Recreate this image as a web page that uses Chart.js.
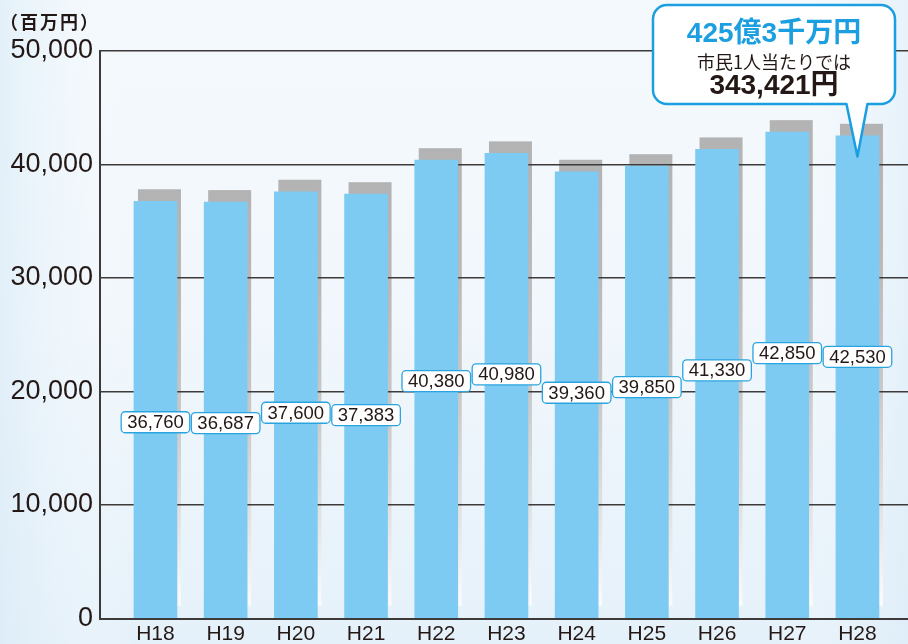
<!DOCTYPE html>
<html><head><meta charset="utf-8">
<script src="https://cdn.jsdelivr.net/npm/chart.js@4.4.1/dist/chart.umd.min.js"></script>
<style>
html,body{margin:0;padding:0;background:#eef6fc;}
canvas{display:block;}
</style>
</head><body>
<canvas id="c" width="908" height="644"></canvas>
<script>
// ---- data ----
const categories = ['H18','H19','H20','H21','H22','H23','H24','H25','H26','H27','H28'];
const values = [36760, 36687, 37600, 37383, 40380, 40980, 39360, 39850, 41330, 42850, 42530];
const yTickValues = [0, 10000, 20000, 30000, 40000, 50000];
const unitLabel = '（百万円）';
const calloutLines = ['425億3千万円', '市民1人当たりでは', '343,421円'];
const calloutTarget = { index: 10, value: 40700 };

// ---- styles ----
const TEXT = '#231815';
const LINE = '#3e3a39';
const BLUE = '#7dcbf3';
const CALLOUT_BLUE = '#1b9fe0';
const NUM_FONT = "'Liberation Sans', Arial, sans-serif";
const MIX_FONT = "'Liberation Sans', 'Noto Sans CJK JP', sans-serif";
const CJK_FONT = "'Noto Sans CJK JP', 'Noto Sans CJK SC', sans-serif";

const points = values.map((v, i) => ({ x: i, y: v }));

const backgroundPlugin = {
  id: 'bgShadow',
  beforeDraw(chart) {
    const ctx = chart.ctx;
    ctx.save();
    const g = ctx.createLinearGradient(0, 0, 0, chart.height);
    g.addColorStop(0, '#f4f9fd');
    g.addColorStop(0.5, '#f1f7fc');
    g.addColorStop(1, '#e5f1fa');
    ctx.fillStyle = g;
    ctx.fillRect(0, 0, chart.width, chart.height);
    const g2 = ctx.createLinearGradient(0, 0, chart.width, 0);
    g2.addColorStop(0, 'rgba(214,233,246,0.55)');
    g2.addColorStop(0.15, 'rgba(255,255,255,0)');
    g2.addColorStop(0.85, 'rgba(255,255,255,0)');
    g2.addColorStop(1, 'rgba(214,233,246,0.45)');
    ctx.fillStyle = g2;
    ctx.fillRect(0, 0, chart.width, chart.height);
    // bar shadows (drawn below grid lines)
    const meta = chart.getDatasetMeta(0);
    meta.data.forEach(el => {
      const w = el.width;
      const x0 = el.x - w / 2 + 4;
      const top = el.y - 12;
      const bottom = el.base - 12;
      const sg = ctx.createLinearGradient(0, top, 0, bottom);
      sg.addColorStop(0, '#b3b3b3');
      sg.addColorStop(0.25, '#b8b8b8');
      sg.addColorStop(0.55, '#c9c9c9');
      sg.addColorStop(0.8, '#e3e3e3');
      sg.addColorStop(1, '#fbfbfb');
      ctx.fillStyle = sg;
      ctx.fillRect(x0, top, w, bottom - top);
    });
    ctx.restore();
  }
};

const labelPlugin = {
  id: 'valueBoxes',
  afterDatasetsDraw(chart) {
    const ctx = chart.ctx;
    const ys = chart.scales.y;
    const meta = chart.getDatasetMeta(0);
    ctx.save();
    ctx.font = '18.5px ' + NUM_FONT;
    ctx.textAlign = 'center';
    ctx.textBaseline = 'middle';
    meta.data.forEach((el, i) => {
      const txt = values[i].toLocaleString('en-US');
      const w = ctx.measureText(txt).width + 12;
      const h = 21;
      const cy = ys.getPixelForValue(values[i]) + 221;
      const x = el.x - w / 2, y = cy - h / 2;
      ctx.beginPath();
      ctx.roundRect(x, y, w, h, 4);
      ctx.fillStyle = '#ffffff';
      ctx.fill();
      ctx.lineWidth = 1.3;
      ctx.strokeStyle = '#2aa4e0';
      ctx.stroke();
      ctx.fillStyle = TEXT;
      ctx.fillText(txt, el.x, cy + 1);
    });
    ctx.restore();
  }
};

const calloutPlugin = {
  id: 'callout',
  afterDraw(chart) {
    const ctx = chart.ctx;
    const xs = chart.scales.x, ys = chart.scales.y;
    ctx.save();
    // unit label
    ctx.font = 'bold 18px ' + CJK_FONT;
    ctx.fillStyle = TEXT;
    ctx.textAlign = 'left';
    ctx.textBaseline = 'middle';
    if ('letterSpacing' in ctx) ctx.letterSpacing = '2px';
    ctx.fillText(unitLabel, 0, 22);
    if ('letterSpacing' in ctx) ctx.letterSpacing = '0px';

    const L = 653, T = 5, R = 895, B = 104, r = 14;
    const tipX = xs.getPixelForValue(calloutTarget.index);
    const tipY = ys.getPixelForValue(calloutTarget.value);
    const pL = tipX - 11, pR = tipX + 10;
    ctx.beginPath();
    ctx.moveTo(L + r, T);
    ctx.lineTo(R - r, T);
    ctx.arcTo(R, T, R, T + r, r);
    ctx.lineTo(R, B - r);
    ctx.arcTo(R, B, R - r, B, r);
    ctx.lineTo(pR, B);
    ctx.lineTo(tipX, tipY);
    ctx.lineTo(pL, B);
    ctx.lineTo(L + r, B);
    ctx.arcTo(L, B, L, B - r, r);
    ctx.lineTo(L, T + r);
    ctx.arcTo(L, T, L + r, T, r);
    ctx.closePath();
    ctx.fillStyle = '#ffffff';
    ctx.fill();
    ctx.lineWidth = 2.5;
    ctx.lineJoin = 'round';
    ctx.strokeStyle = CALLOUT_BLUE;
    ctx.stroke();

    const cx = (L + R) / 2;
    ctx.textAlign = 'center';
    ctx.textBaseline = 'middle';
    ctx.fillStyle = CALLOUT_BLUE;
    ctx.font = 'bold 28px ' + MIX_FONT;
    ctx.fillText(calloutLines[0], cx, 34);
    ctx.fillStyle = TEXT;
    ctx.font = '18px ' + CJK_FONT;
    ctx.fillText(calloutLines[1], cx, 62);
    ctx.font = 'bold 28px ' + MIX_FONT;
    ctx.fillText(calloutLines[2], cx, 86);
    ctx.restore();
  }
};

new Chart(document.getElementById('c'), {
  type: 'bar',
  data: {
    datasets: [{
      data: points,
      backgroundColor: BLUE,
      borderWidth: 0,
      barThickness: 43
    }]
  },
  options: {
    responsive: false,
    animation: false,
    devicePixelRatio: 1,
    layout: { padding: { top: 51, right: 0, left: 0, bottom: 0 } },
    plugins: { legend: { display: false }, tooltip: { enabled: false } },
    scales: {
      x: {
        type: 'linear',
        offset: false,
        bounds: 'data',
        min: -0.79,
        max: 10.72,
        afterBuildTicks(scale) { scale.ticks = categories.map((_, i) => ({ value: i })); },
        afterFit(scale) { scale.height = 25.5; },
        grid: { display: false, drawTicks: false, offset: false },
        border: { display: true, color: LINE, width: 2 },
        ticks: {
          autoSkip: false, maxRotation: 0, padding: 3,
          color: TEXT,
          font: { family: NUM_FONT, size: 21 },
          callback: (v) => categories[v]
        }
      },
      y: {
        min: 0,
        max: 50000,
        afterBuildTicks(scale) { scale.ticks = yTickValues.map(v => ({ value: v })); },
        afterFit(scale) { scale.width = 100; },
        grid: { color: LINE, lineWidth: 1.5, drawTicks: false },
        border: { display: true, color: LINE, width: 2 },
        ticks: {
          padding: 7,
          color: TEXT,
          font: { family: NUM_FONT, size: 27 },
          callback: (v) => Number(v).toLocaleString('en-US')
        }
      }
    }
  },
  plugins: [backgroundPlugin, labelPlugin, calloutPlugin]
});
</script>
</body></html>
